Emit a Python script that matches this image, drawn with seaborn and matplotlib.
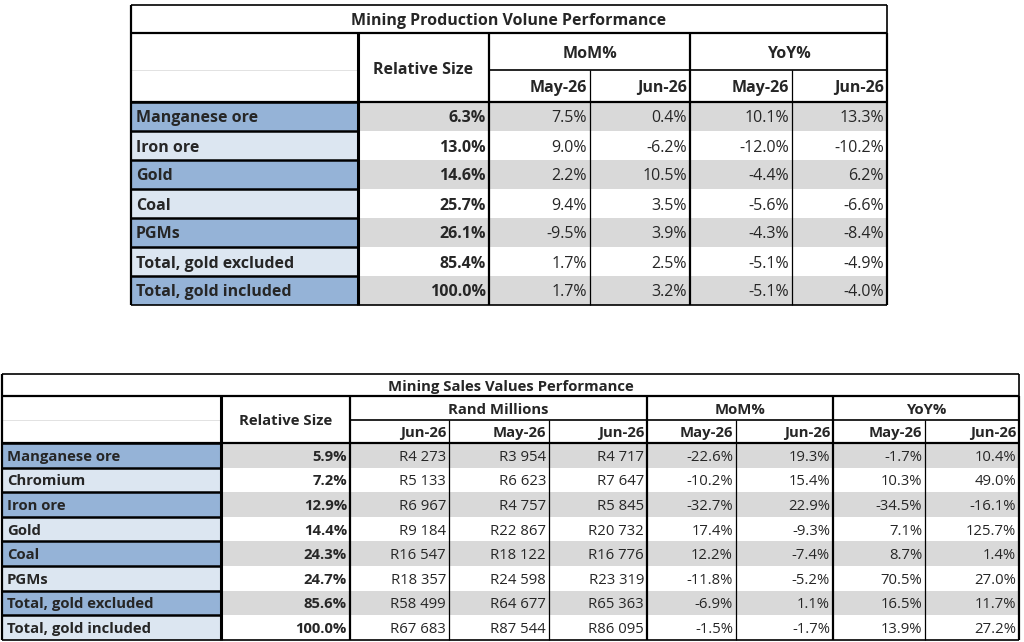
import matplotlib
matplotlib.use("Agg")
import matplotlib.pyplot as plt
import seaborn as sns
from matplotlib.patches import Rectangle

sns.set_style("white")
plt.rcParams['font.family'] = ['Open Sans', 'DejaVu Sans']

# ---- data ----
t1_title = "Mining Production Volune Performance"
t1_rows = ["Manganese ore", "Iron ore", "Gold", "Coal", "PGMs", "Total, gold excluded", "Total, gold included"]
t1_rel = ["6.3%", "13.0%", "14.6%", "25.7%", "26.1%", "85.4%", "100.0%"]
t1_mom_may = ["7.5%", "9.0%", "2.2%", "9.4%", "-9.5%", "1.7%", "1.7%"]
t1_mom_jun = ["0.4%", "-6.2%", "10.5%", "3.5%", "3.9%", "2.5%", "3.2%"]
t1_yoy_may = ["10.1%", "-12.0%", "-4.4%", "-5.6%", "-4.3%", "-5.1%", "-5.1%"]
t1_yoy_jun = ["13.3%", "-10.2%", "6.2%", "-6.6%", "-8.4%", "-4.9%", "-4.0%"]

t2_title = "Mining Sales Values Performance"
t2_rows = ["Manganese ore", "Chromium", "Iron ore", "Gold", "Coal", "PGMs", "Total, gold excluded", "Total, gold included"]
t2_rel = ["5.9%", "7.2%", "12.9%", "14.4%", "24.3%", "24.7%", "85.6%", "100.0%"]
t2_r_jun_prev = ["R4 273", "R5 133", "R6 967", "R9 184", "R16 547", "R18 357", "R58 499", "R67 683"]
t2_r_may = ["R3 954", "R6 623", "R4 757", "R22 867", "R18 122", "R24 598", "R64 677", "R87 544"]
t2_r_jun = ["R4 717", "R7 647", "R5 845", "R20 732", "R16 776", "R23 319", "R65 363", "R86 095"]
t2_mom_may = ["-22.6%", "-10.2%", "-32.7%", "17.4%", "12.2%", "-11.8%", "-6.9%", "-1.5%"]
t2_mom_jun = ["19.3%", "15.4%", "22.9%", "-9.3%", "-7.4%", "-5.2%", "1.1%", "-1.7%"]
t2_yoy_may = ["-1.7%", "10.3%", "-34.5%", "7.1%", "8.7%", "70.5%", "16.5%", "13.9%"]
t2_yoy_jun = ["10.4%", "49.0%", "-16.1%", "125.7%", "1.4%", "27.0%", "11.7%", "27.2%"]

DARK = "#95b3d7"; LIGHT = "#dce6f1"; GREY = "#d9d9d9"

fig = plt.figure(figsize=(10.24, 6.42), dpi=100)
ax = fig.add_axes([0, 0, 1, 1])
ax.set_xlim(0, 1024); ax.set_ylim(642, 0); ax.axis("off")
VA = "center_baseline"

def line(x0, y0, x1, y1, lw=1.0, c="black"):
    ax.plot([x0, x1], [y0, y1], color=c, lw=lw, solid_capstyle="butt")

def draw_table(cx, title, title_y, hdr_y, row_y, rows, rel, groups, cols, fs):
    n = len(rows)
    x0, x1 = cx[0], cx[-1]
    ty0, ty1 = title_y
    ax.text((x0 + x1) / 2, (ty0 + ty1) / 2, title, ha="center", va=VA, fontsize=fs, weight="bold")
    for i in range(n):
        y0, y1 = row_y[i], row_y[i + 1]
        ax.add_patch(Rectangle((cx[0], y0), cx[1] - cx[0], y1 - y0, fc=DARK if i % 2 == 0 else LIGHT, ec="none"))
        if i % 2 == 0:
            ax.add_patch(Rectangle((cx[1], y0), x1 - cx[1], y1 - y0, fc=GREY, ec="none"))
        ym = (y0 + y1) / 2
        ax.text(cx[0] + 5, ym, rows[i], ha="left", va=VA, fontsize=fs, weight="bold")
        ax.text(cx[2] - 3, ym, rel[i], ha="right", va=VA, fontsize=fs, weight="bold")
        for j, col in enumerate(cols):
            ax.text(cx[3 + j] - 3, ym, col[i], ha="right", va=VA, fontsize=fs)
        line(cx[0], y0, cx[1], y0, 1.8)
    line(cx[0], row_y[-1], x1, row_y[-1], 1.2)
    h0, hm, h1 = hdr_y
    ax.text((cx[1] + cx[2]) / 2, (h0 + h1) / 2, "Relative Size", ha="center", va=VA, fontsize=fs, weight="bold")
    for lab, a, b, subs in groups:
        ax.text((cx[a] + cx[b]) / 2, (h0 + hm) / 2, lab, ha="center", va=VA, fontsize=fs, weight="bold")
        line(cx[a], hm, cx[b], hm, 1.2)
        for k, s in enumerate(subs):
            ax.text(cx[a + k + 1] - 3, (hm + h1) / 2, s, ha="right", va=VA, fontsize=fs, weight="bold")
            if k > 0:
                line(cx[a + k], hm, cx[a + k], row_y[-1], 0.9)
        line(cx[b], h0, cx[b], row_y[-1], 1.6)
    line(cx[0], hm, cx[1], hm, 0.4, "#cccccc")
    line(x0, ty0, x1, ty0, 1.2)
    line(x0, ty1, x1, ty1, 1.6)
    line(x0, h1, x1, h1, 1.6)
    line(x0, ty0, x0, row_y[-1], 1.6)
    line(x1, ty0, x1, row_y[-1], 1.2)
    line(cx[1], h0, cx[1], row_y[-1], 2.2)
    line(cx[2], h0, cx[2], row_y[-1], 1.6)

cx1 = [131, 358, 489, 590, 690, 792, 887]
ry1 = [102 + 29 * i for i in range(8)]
draw_table(cx1, t1_title, (5, 33), (33, 70, 102), ry1, t1_rows, t1_rel,
           [("MoM%", 2, 4, ["May-26", "Jun-26"]), ("YoY%", 4, 6, ["May-26", "Jun-26"])],
           [t1_mom_may, t1_mom_jun, t1_yoy_may, t1_yoy_jun], 11.5)

cx2 = [2, 221, 350, 449, 549, 647, 736, 833, 925, 1019]
ry2 = [443 + 24.6 * i for i in range(9)]
draw_table(cx2, t2_title, (374, 396), (396, 420, 443), ry2, t2_rows, t2_rel,
           [("Rand Millions", 2, 5, ["Jun-26", "May-26", "Jun-26"]),
            ("MoM%", 5, 7, ["May-26", "Jun-26"]), ("YoY%", 7, 9, ["May-26", "Jun-26"])],
           [t2_r_jun_prev, t2_r_may, t2_r_jun, t2_mom_may, t2_mom_jun, t2_yoy_may, t2_yoy_jun], 10.7)

fig.savefig("out.png", dpi=100, facecolor="white")
